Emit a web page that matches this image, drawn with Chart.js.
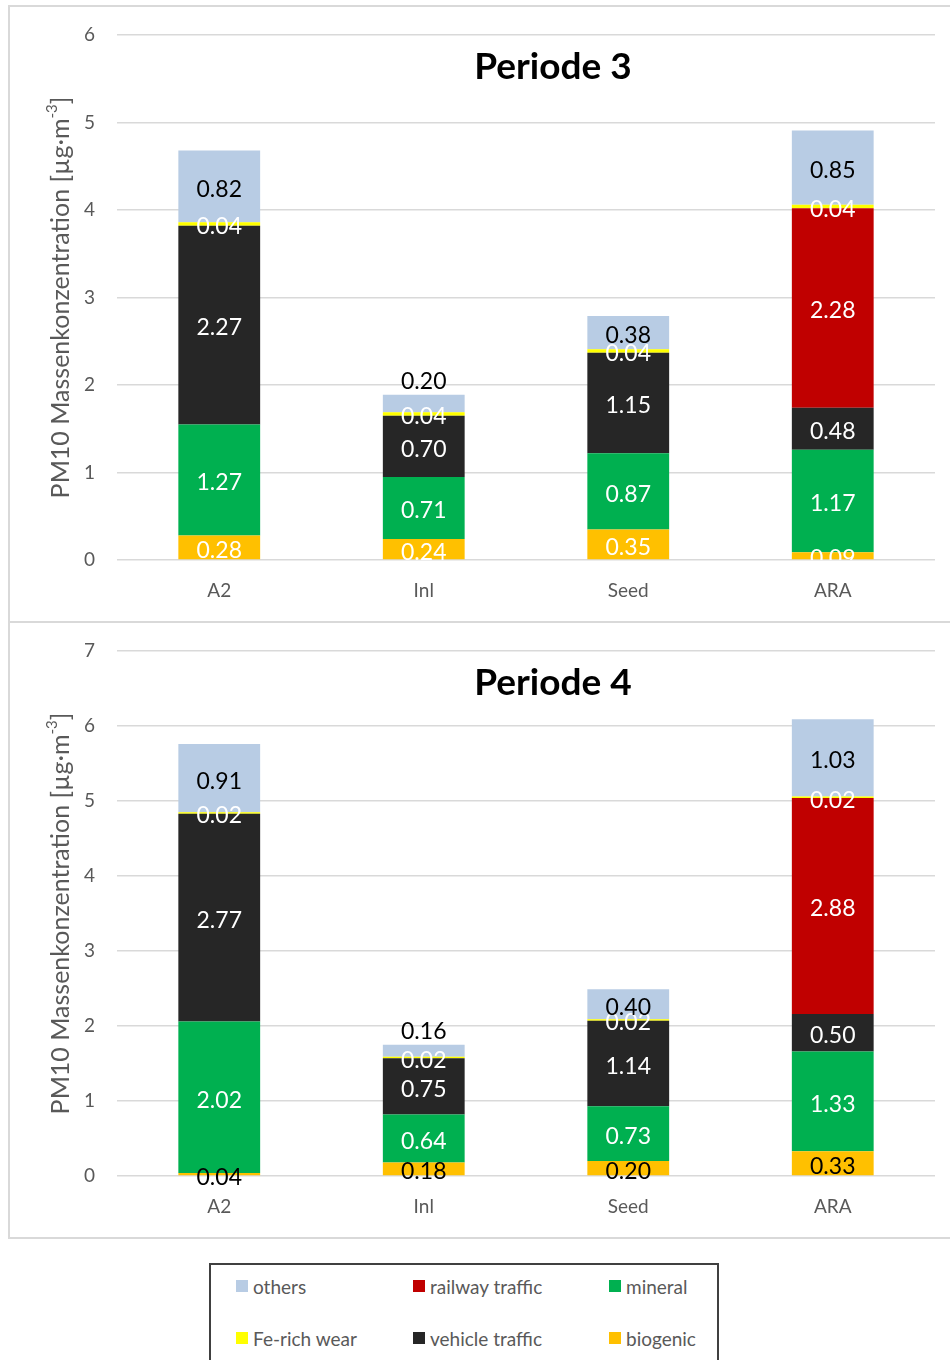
<!DOCTYPE html>
<html>
<head>
<meta charset="utf-8">
<title>PM10 Quellenzuordnung – Periode 3 und 4</title>
<script src="https://cdn.jsdelivr.net/npm/chart.js@4.4.1/dist/chart.umd.min.js"></script>
<style>
  html, body { margin: 0; padding: 0; background: #fff; }
  #page { position: relative; width: 950px; height: 1360px; overflow: hidden; background: #fff; font-family: Lato, "Open Sans", sans-serif; }
  .panel { position: absolute; left: 8px; width: 960px; height: 618px; border: 2px solid #d9d9d9; box-sizing: border-box; background: #fff; }
  #panelP3 { top: 5px; }
  #panelP4 { top: 621px; }
  .panel canvas { position: absolute; left: 0; top: 0; }
  #legend { position: absolute; left: 209px; top: 1263px; width: 510px; height: 130px; border: 2px solid #404040; box-sizing: border-box; background: #fff; }
  .lg-item { position: absolute; display: flex; align-items: center; font-size: 19px; color: #595959; white-space: nowrap; }
  .lg-swatch { width: 12px; height: 12px; margin-right: 5px; }
</style>
</head>
<body>
<div id="page">
  <div class="panel" id="panelP3"><canvas id="chartP3" width="940" height="614"></canvas></div>
  <div class="panel" id="panelP4"><canvas id="chartP4" width="940" height="614"></canvas></div>
  <div id="legend"></div>
</div>
<script>
// Sites
const categories = ['A2', 'Inl', 'Seed', 'ARA'];

// Source names (bottom to top in the stack)
const seriesNames = ['biogenic', 'mineral', 'vehicle traffic', 'railway traffic', 'Fe-rich wear', 'others'];
const seriesColors = ['#FFC000', '#00B050', '#262626', '#C00000', '#FFFF00', '#B8CCE4'];

// Periode 3 – PM10 contributions [µg·m-3]
const p3Biogenic = [0.28, 0.24, 0.35, 0.09];
const p3Mineral  = [1.27, 0.71, 0.87, 1.17];
const p3Vehicle  = [2.27, 0.70, 1.15, 0.48];
const p3Railway  = [null, null, null, 2.28];
const p3FeRich   = [0.04, 0.04, 0.04, 0.04];
const p3Others   = [0.82, 0.20, 0.38, 0.85];

// Periode 4 – PM10 contributions [µg·m-3]
const p4Biogenic = [0.04, 0.18, 0.20, 0.33];
const p4Mineral  = [2.02, 0.64, 0.73, 1.33];
const p4Vehicle  = [2.77, 0.75, 1.14, 0.50];
const p4Railway  = [null, null, null, 2.88];
const p4FeRich   = [0.02, 0.02, 0.02, 0.02];
const p4Others   = [0.91, 0.16, 0.40, 1.03];

// Y-axis tops
const p3AxisMax = 6;
const p4AxisMax = 7;

const FONT = 'Lato, "Open Sans", sans-serif';
const GREY = '#595959';

// Value labels centred in each segment; a thin top segment gets its label above the bar
const segmentLabels = {
  id: 'segmentLabels',
  afterDatasetsDraw(chart, args, opts) {
    const ctx = chart.ctx;
    const area = chart.chartArea;
    ctx.save();
    if (opts.clip) {
      ctx.beginPath();
      ctx.rect(area.left, area.top, area.right - area.left, area.bottom - area.top);
      ctx.clip();
    }
    ctx.font = '23px ' + FONT;
    ctx.textAlign = 'center';
    ctx.textBaseline = 'middle';
    chart.data.datasets.forEach((ds, di) => {
      const meta = chart.getDatasetMeta(di);
      meta.data.forEach((bar, i) => {
        const v = ds.data[i];
        if (v === null || v === undefined || v === 0) return;
        const p = bar.getProps(['x', 'y', 'base'], true);
        let y = (p.y + p.base) / 2;
        const isTop = di === chart.data.datasets.length - 1;
        if (isTop && Math.abs(p.base - p.y) < 22) y = p.y - 16;
        ctx.fillStyle = ds.labelColor;
        ctx.fillText(v.toFixed(2), p.x, y + 3);
      });
    });
    ctx.restore();
  }
};

// Panel heading inside the plot
const panelHeading = {
  id: 'panelHeading',
  afterDraw(chart, args, opts) {
    const ctx = chart.ctx;
    const area = chart.chartArea;
    ctx.save();
    ctx.font = 'bold 37px ' + FONT;
    ctx.fillStyle = '#000';
    ctx.textAlign = 'center';
    ctx.textBaseline = 'middle';
    ctx.fillText(opts.text, area.left + (area.right - area.left) * 0.533, area.top + 32);
    ctx.restore();
  }
};

// Rotated y-axis title with a superscript exponent
const unitTitle = {
  id: 'unitTitle',
  afterDraw(chart) {
    const ctx = chart.ctx;
    const area = chart.chartArea;
    const main = 'PM10 Massenkonzentration [µg·m';
    const sup = '-3';
    const tail = ']';
    const mainFont = '25px ' + FONT;
    const supFont = '15px ' + FONT;
    ctx.save();
    ctx.font = mainFont;
    const wMain = ctx.measureText(main).width;
    const wTail = ctx.measureText(tail).width;
    ctx.font = supFont;
    const wSup = ctx.measureText(sup).width;
    const total = wMain + wSup + wTail;
    ctx.translate(51, (area.top + area.bottom) / 2);
    ctx.rotate(-Math.PI / 2);
    ctx.fillStyle = GREY;
    ctx.textBaseline = 'middle';
    ctx.textAlign = 'left';
    let x = -total / 2;
    ctx.font = mainFont;
    ctx.fillText(main, x, 0);
    x += wMain;
    ctx.font = supFont;
    ctx.fillText(sup, x, -9);
    x += wSup;
    ctx.font = mainFont;
    ctx.fillText(tail, x, 0);
    ctx.restore();
  }
};

function buildDatasets(values, biogenicLabelColor) {
  const labelColors = [biogenicLabelColor, '#fff', '#fff', '#fff', '#fff', '#000'];
  return values.map((arr, k) => ({
    label: seriesNames[k],
    data: arr,
    backgroundColor: seriesColors[k],
    borderWidth: 0,
    labelColor: labelColors[k],
    barPercentage: 0.4,
    categoryPercentage: 1.0
  }));
}

function makeChart(canvasId, values, axisMax, heading, biogenicLabelColor, clipLabels) {
  return new Chart(document.getElementById(canvasId), {
    type: 'bar',
    data: { labels: categories, datasets: buildDatasets(values, biogenicLabelColor) },
    options: {
      responsive: false,
      animation: false,
      devicePixelRatio: 1,
      layout: { padding: { left: 0, right: 15, top: 28, bottom: 0 } },
      plugins: {
        legend: { display: false },
        tooltip: { enabled: false },
        segmentLabels: { clip: clipLabels },
        panelHeading: { text: heading }
      },
      scales: {
        x: {
          stacked: true,
          grid: { display: false, drawTicks: false },
          border: { display: false },
          ticks: { color: GREY, font: { family: FONT, size: 19 }, padding: 19 },
          afterFit(scale) { scale.height = 61; }
        },
        y: {
          stacked: true,
          min: 0,
          max: axisMax,
          grid: { color: '#d9d9d9', lineWidth: 1.5, drawTicks: false },
          border: { display: false },
          ticks: { stepSize: 1, color: GREY, font: { family: FONT, size: 19 }, padding: 22 },
          afterFit(scale) {
            scale.width = 107;
            scale.paddingTop = 0;
            scale.paddingBottom = 0;
          }
        }
      }
    },
    plugins: [segmentLabels, panelHeading, unitTitle]
  });
}

makeChart('chartP3', [p3Biogenic, p3Mineral, p3Vehicle, p3Railway, p3FeRich, p3Others], p3AxisMax, 'Periode 3', '#fff', true);
makeChart('chartP4', [p4Biogenic, p4Mineral, p4Vehicle, p4Railway, p4FeRich, p4Others], p4AxisMax, 'Periode 4', '#000', false);

// Shared legend, column-major in two rows: others / Fe-rich, railway / vehicle, mineral / biogenic
const legendOrder = [5, 4, 3, 2, 1, 0];
const legendColumnX = [25, 202, 398];
const legendRowY = [21, 73];
const legendBox = document.getElementById('legend');
legendOrder.forEach((k, n) => {
  const item = document.createElement('div');
  item.className = 'lg-item';
  item.style.left = legendColumnX[Math.floor(n / 2)] + 'px';
  item.style.top = (legendRowY[n % 2] - 12) + 'px';
  item.style.height = '24px';
  const sw = document.createElement('span');
  sw.className = 'lg-swatch';
  sw.style.background = seriesColors[k];
  const tx = document.createElement('span');
  tx.textContent = seriesNames[k];
  item.appendChild(sw);
  item.appendChild(tx);
  legendBox.appendChild(item);
});
</script>
</body>
</html>
